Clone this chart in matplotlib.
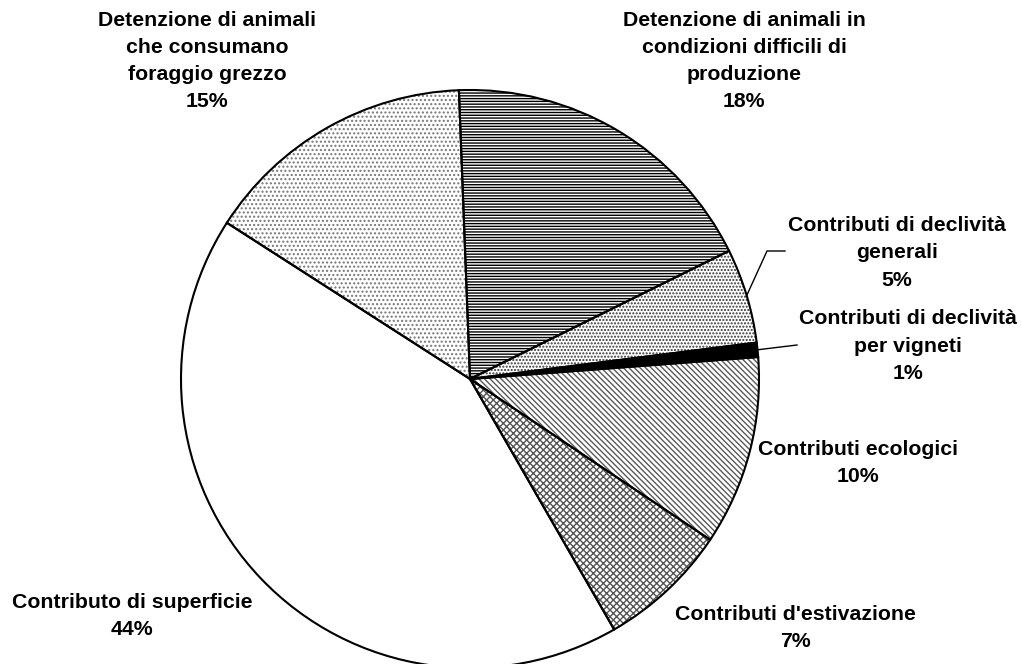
import numpy as np
import matplotlib
matplotlib.use("Agg")
import matplotlib.pyplot as plt

# ===============================
# Data
# ===============================
categories = [
    "Detenzione di animali in\ncondizioni difficili di\nproduzione",
    "Contributi di declività\ngenerali",
    "Contributi di declività\nper vigneti",
    "Contributi ecologici",
    "Contributi d'estivazione",
    "Contributo di superficie",
    "Detenzione di animali\nche consumano\nforaggio grezzo",
]
# slice shares as drawn in the picture
shares = [18.3, 5.3, 0.8, 10.6, 7.3, 42.4, 15.3]
# percentages as printed on the labels
pct_labels = [18, 5, 1, 10, 7, 44, 15]

# ===============================
# Layout (pixels, y from top)
# ===============================
W, H = 1022, 664
CX, CY, R = 470, 379, 289
START = 92.2
label_xy = [(744, 61), (897, 253), (908, 346), (858, 463),
            (795, 628), (132, 616), (207, 61)]
# leader lines for the two small slices: index -> elbow point
leaders = {1: [(785, 251), (767, 251)], 2: [(797, 345)]}

hatches = ['------', '.....', None, '\\\\\\\\\\\\', 'xxxxx', None, '....']
hatch_cols = ['black', '#333333', 'black', '#5a5a5a', '#555555', 'black', '#777777']
faces = ['white', 'white', 'black', 'white', 'white', 'white', 'white']

plt.rcParams['font.family'] = ['Liberation Sans', 'DejaVu Sans']
plt.rcParams['hatch.linewidth'] = 1.0

fig = plt.figure(figsize=(W / 100, H / 100), dpi=100)
ax = fig.add_axes([0, 0, 1, 1])

# pass 1: fills and hatches
wedges, _ = ax.pie(shares, startangle=START, counterclock=False,
                   center=(CX, H - CY), radius=R,
                   wedgeprops=dict(linewidth=0))
for w, f, h, c in zip(wedges, faces, hatches, hatch_cols):
    w.set_facecolor(f)
    w.set_edgecolor(c)
    if h:
        w.set_hatch(h)

# pass 2: outlines
ax.pie(shares, startangle=START, counterclock=False,
       center=(CX, H - CY), radius=R,
       wedgeprops=dict(fill=False, edgecolor='black', linewidth=1.5))

# labels
for i, (cat, pct) in enumerate(zip(categories, pct_labels)):
    x, y = label_xy[i]
    ax.text(x, H - y, f"{cat}\n{pct}%", ha='center', va='center',
            fontsize=15.3, fontweight='bold', linespacing=1.55)

# leader lines from slice middle to label
for i, pts in leaders.items():
    w = wedges[i]
    mid = np.deg2rad((w.theta1 + w.theta2) / 2)
    ex, ey = CX + R * np.cos(mid), (H - CY) + R * np.sin(mid)
    xs = [p[0] for p in pts] + [ex]
    ys = [H - p[1] for p in pts] + [ey]
    ax.plot(xs, ys, color='black', linewidth=1.0)

ax.set_xlim(0, W)
ax.set_ylim(0, H)
ax.set_aspect('equal')
ax.axis('off')

fig.savefig('out.png', dpi=100)
